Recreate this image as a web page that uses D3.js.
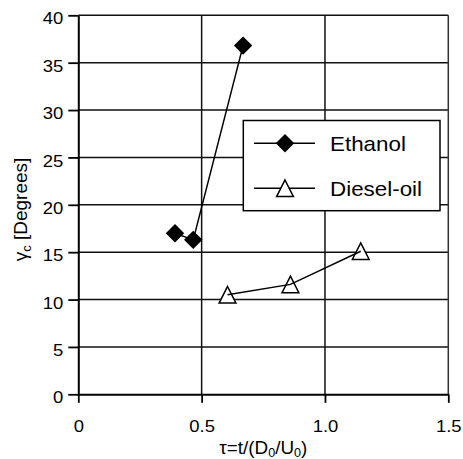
<!DOCTYPE html>
<html><head><meta charset="utf-8">
<script src="https://cdn.jsdelivr.net/npm/d3@7"></script>
<style>body{margin:0;background:#fff} svg{display:block}</style>
</head><body>
<script>
const ethanolX = [0.392, 0.466, 0.668];
const ethanolY = [17.0, 16.3, 36.8];
const dieselX = [0.605, 0.86, 1.145];
const dieselY = [10.5, 11.6, 15.1];
const xTicks = [0, 0.5, 1.0, 1.5];
const xTickLabels = ["0", "0.5", "1.0", "1.5"];
const yTicks = [0, 5, 10, 15, 20, 25, 30, 35, 40];
const seriesNames = ["Ethanol", "Diesel-oil"];

const W = 463, H = 459;
const FONT = "'Liberation Sans', Arial, Helvetica, sans-serif";
const SX = 1.12;
const svg = d3.select("body").append("svg").attr("width", W).attr("height", H)
  .style("font-family", FONT);
const x = d3.scaleLinear().domain([0, 1.5]).range([78.3, 448.3]);
const y = d3.scaleLinear().domain([0, 40]).range([394.3, 15.3]);

// gridlines
svg.append("g").selectAll("line").data(yTicks.filter(d => d > 0)).join("line")
  .attr("x1", x(0)).attr("x2", x(1.5)).attr("y1", d => y(d)).attr("y2", d => y(d))
  .attr("stroke", "#111").attr("stroke-width", 1.5);
svg.append("g").selectAll("line").data(xTicks.filter(d => d > 0 && d < 1.5)).join("line")
  .attr("x1", d => x(d)).attr("x2", d => x(d)).attr("y1", y(0)).attr("y2", y(40))
  .attr("stroke", "#111").attr("stroke-width", 1.5);
// right border
svg.append("line").attr("x1", x(1.5)).attr("x2", x(1.5)).attr("y1", y(40)).attr("y2", y(0))
  .attr("stroke", "#333").attr("stroke-width", 1.5);

// y axis
const yAxis = svg.append("g").attr("transform", `translate(${x(0)},0)`)
  .call(d3.axisLeft(y).tickValues(yTicks).tickSize(10).tickSizeOuter(0).tickFormat(d3.format("d")));
yAxis.select(".domain").attr("stroke", "#000").attr("stroke-width", 2);
yAxis.selectAll(".tick line").attr("stroke", "#000").attr("stroke-width", 1.8);
yAxis.selectAll(".tick text").attr("x", 0).attr("dy", null).attr("y", 8.6)
  .attr("transform", `translate(-15,0) scale(${SX},1)`)
  .attr("font-size", 16.5).attr("font-family", FONT).attr("fill", "#000");

// x axis
const xAxis = svg.append("g").attr("transform", `translate(0,${y(0)})`)
  .call(d3.axisBottom(x).tickValues(xTicks).tickSize(8.5).tickSizeOuter(0)
    .tickFormat((d, i) => xTickLabels[i]));
xAxis.select(".domain").attr("stroke", "#000").attr("stroke-width", 2);
xAxis.selectAll(".tick line").attr("stroke", "#000").attr("stroke-width", 1.8);
xAxis.selectAll(".tick text").attr("y", 38).attr("dy", null)
  .attr("transform", `scale(${SX},1)`)
  .attr("font-size", 16.5).attr("font-family", FONT).attr("fill", "#000");

// series
const line = d3.line().x(d => x(d[0])).y(d => y(d[1]));
const eth = ethanolX.map((v, i) => [v, ethanolY[i]]);
const die = dieselX.map((v, i) => [v, dieselY[i]]);
const tri = "M0,-8.3L8.4,8.3L-8.4,8.3Z";
const diamond = d3.symbol().type(d3.symbolSquare).size(170)();

svg.append("path").attr("d", line(eth)).attr("fill", "none").attr("stroke", "#000").attr("stroke-width", 1.5);
svg.append("g").selectAll("path").data(eth).join("path")
  .attr("d", diamond).attr("transform", d => `translate(${x(d[0])},${y(d[1])}) rotate(45)`)
  .attr("fill", "#000");

svg.append("g").selectAll("path").data(die).join("path")
  .attr("d", tri).attr("transform", d => `translate(${x(d[0])},${y(d[1])})`)
  .attr("fill", "#fff").attr("stroke", "#000").attr("stroke-width", 1.5);
svg.append("path").attr("d", line(die)).attr("fill", "none").attr("stroke", "#000").attr("stroke-width", 1.5);

// legend
const lg = svg.append("g");
lg.append("rect").attr("x", 243.3).attr("y", 120.5).attr("width", 196.7).attr("height", 90.2)
  .attr("fill", "#fff").attr("stroke", "#000").attr("stroke-width", 1.5);
const rowsY = [143.3, 188.3];
seriesNames.forEach((name, i) => {
  lg.append("line").attr("x1", 254).attr("x2", 315).attr("y1", rowsY[i]).attr("y2", rowsY[i])
    .attr("stroke", "#000").attr("stroke-width", 1.5);
  if (i === 0) {
    lg.append("path").attr("d", diamond).attr("transform", `translate(285,${rowsY[i]}) rotate(45)`).attr("fill", "#000");
  } else {
    lg.append("path").attr("d", tri).attr("transform", `translate(285,${rowsY[i]})`)
      .attr("fill", "#fff").attr("stroke", "#000").attr("stroke-width", 1.5);
  }
  lg.append("text").attr("transform", `translate(330,${rowsY[i] + 7.4}) scale(${SX},1)`)
    .attr("font-size", 20).attr("fill", "#000").text(name);
});

// y title
const yt = svg.append("text").attr("transform", "translate(26.7,209.5) rotate(-90)")
  .attr("text-anchor", "middle").attr("font-size", 19).attr("fill", "#000");
yt.append("tspan").text("γ");
yt.append("tspan").attr("font-size", 13).attr("dy", 4).text("c");
yt.append("tspan").attr("dy", -4).text(" [Degrees]");

// x title
const xt = svg.append("text").attr("transform", `translate(${(x(0) + x(1.5)) / 2},454) scale(1.05,1)`)
  .attr("text-anchor", "middle").attr("font-size", 18).attr("fill", "#000");
xt.append("tspan").text("τ=t/(D");
xt.append("tspan").attr("font-size", 12).attr("dy", 2.5).text("0");
xt.append("tspan").attr("dy", -2.5).text("/U");
xt.append("tspan").attr("font-size", 12).attr("dy", 2.5).text("0");
xt.append("tspan").attr("dy", -2.5).text(")");
</script>
</body></html>
